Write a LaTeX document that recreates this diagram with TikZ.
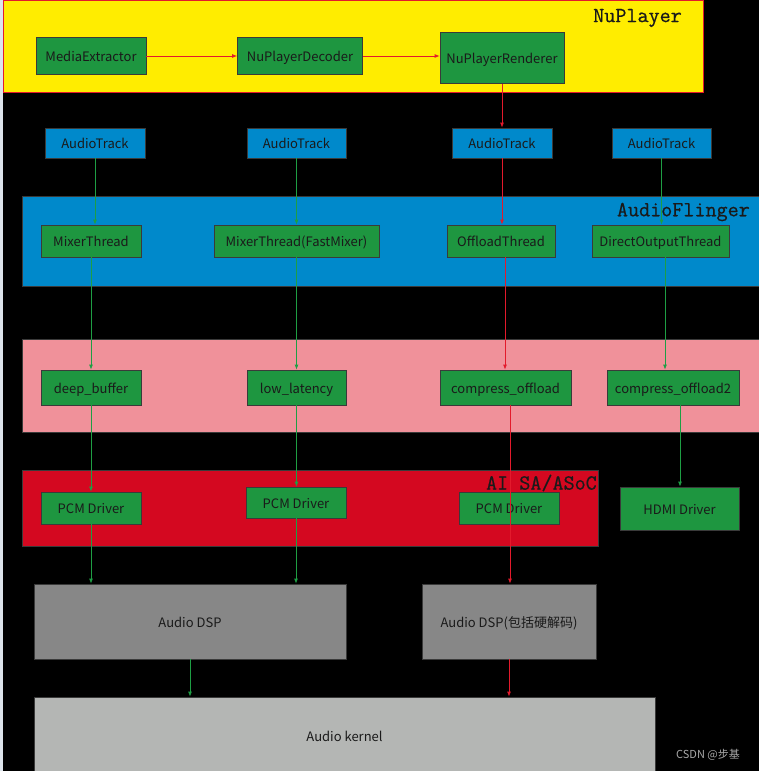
\documentclass[tikz,border=0pt]{standalone}
\usepackage{fontspec}
\newfontfamily\cjk{Noto Sans CJK SC}
\newfontfamily\titlefont{Latin Modern Mono}[FakeBold=0.7]
\definecolor{npyellow}{HTML}{FFED00}
\definecolor{afblue}{HTML}{0089CB}
\definecolor{halpink}{HTML}{F0919A}
\definecolor{alsared}{HTML}{D40820}
\definecolor{compgreen}{HTML}{1E9640}
\definecolor{dspgray}{HTML}{878787}
\definecolor{kernelgray}{HTML}{B4B6B4}
\definecolor{boxborder}{HTML}{3A3A3A}
\definecolor{linegreen}{HTML}{1E9E44}
\definecolor{linered}{HTML}{E31A2C}
\definecolor{textdark}{HTML}{1A1A1A}
\definecolor{stripgray}{HTML}{DDE4EC}
\definecolor{markgray}{HTML}{A8A8A8}
\usetikzlibrary{arrows.meta,positioning,calc}

\begin{document}
\begin{tikzpicture}[x=1pt, y=-1pt,
  layer/.style={draw=boxborder, inner sep=0pt, line width=0.8pt},
  comp/.style={draw=boxborder, fill=compgreen, inner sep=0pt,
               line width=0.8pt, text=textdark,
               text height=1.25em, text depth=0.1em,
               font=\cjk\fontsize{13}{14}\selectfont},
  track/.style={comp, fill=afblue},
  dspbox/.style={comp, fill=dspgray},
  title/.style={anchor=east, text=textdark, inner sep=0pt,
                font=\titlefont\fontsize{21.5}{22}\selectfont},
  gflow/.style={draw=linegreen, line width=0.8pt,
                -{Latex[length=5pt,width=4pt]}},
  rflow/.style={draw=linered, line width=0.8pt,
                -{Latex[length=5pt,width=4pt]}}
]
\useasboundingbox (0,0) rectangle (759,771);
\clip (0,0) rectangle (759,771);
\fill[black] (0,0) rectangle (759,771);
\fill[stripgray] (0,0) rectangle (3,771);

%% NuPlayer
\node[layer, fill=npyellow, draw=linered, minimum width=700pt,
      minimum height=92pt] (nuplayer) at (353,46) {};
\node[title] (nptitle) at (682,18) {NuPlayer};
\node[comp, minimum width=110pt, minimum height=37pt] (extractor) at (91,56) {MediaExtractor};
\node[comp, minimum width=125pt, minimum height=37pt] (decoder) at (300,56) {NuPlayerDecoder};
\node[comp, minimum width=124pt, minimum height=51pt] (renderer) at (502,58) {NuPlayerRenderer};

%% AudioTrack
\node[track, minimum width=100pt, minimum height=30pt] (track1) at (95,143) {AudioTrack};
\node[track, minimum width=99pt, minimum height=30pt] (track2) at (296.5,143) {AudioTrack};
\node[track, minimum width=100pt, minimum height=30pt] (track3) at (502,143) {AudioTrack};
\node[track, minimum width=99pt, minimum height=30pt] (track4) at (661.5,143) {AudioTrack};

%% AudioFlinger
\node[layer, fill=afblue, minimum width=748pt, minimum height=90pt] (flinger) at (396,241) {};
\node[title] (aftitle) at (750,212) {AudioFlinger};
\node[comp, minimum width=100pt, minimum height=32pt] (mixer) at (91,241) {MixerThread};
\node[comp, minimum width=165pt, minimum height=32pt] (fastmixer) at (296.5,241) {MixerThread(FastMixer)};
\node[comp, minimum width=108pt, minimum height=32pt] (offload) at (501,241) {OffloadThread};
\node[comp, minimum width=137pt, minimum height=32pt] (direct) at (660.5,241) {DirectOutputThread};

%% output profiles
\node[layer, fill=halpink, minimum width=748pt, minimum height=93pt] (profiles) at (396,385.5) {};
\node[comp, minimum width=100pt, minimum height=35pt] (deepbuf) at (91,387.5) {deep\_buffer};
\node[comp, minimum width=99pt, minimum height=35pt] (lowlat) at (296.5,387.5) {low\_latency};
\node[comp, minimum width=131pt, minimum height=35pt] (compress) at (505.5,387.5) {compress\_offload};
\node[comp, minimum width=132pt, minimum height=35pt] (compress2) at (673,387.5) {compress\_offload2};

%% ALSA/ASoC
\node[layer, fill=alsared, minimum width=576pt, minimum height=76pt] (alsa) at (310,508) {};
\node[title] (alsatitle) at (597,483) {AI SA/ASoC};
\node[comp, minimum width=100pt, minimum height=32pt] (pcm1) at (91,508) {PCM Driver};
\node[comp, minimum width=100pt, minimum height=31pt] (pcm2) at (296,502.5) {PCM Driver};
\node[comp, minimum width=100pt, minimum height=32pt] (pcm3) at (509,508) {PCM Driver};
\node[comp, minimum width=119pt, minimum height=43pt] (hdmi) at (679.5,508.5) {HDMI Driver};

%% DSP and kernel
\node[dspbox, minimum width=312pt, minimum height=75pt] (dsp) at (190,621.5) {Audio DSP};
\node[dspbox, minimum width=174pt, minimum height=75pt] (dsphw) at (509,621.5) {Audio DSP(包括硬解码)};
\node[dspbox, fill=kernelgray, minimum width=621pt, minimum height=78pt] (kernel) at (344.5,736) {Audio kernel};
\node[font=\cjk\fontsize{11}{12}\selectfont, text=markgray] (mark) at (708,755) {CSDN @步基};

%% connectors
\draw[rflow] (extractor.east) -- (extractor.east -| decoder.west);
\draw[rflow] (decoder.east) -- (decoder.east -| renderer.west);
\draw[rflow] (renderer.south) -- (track3.north);

\draw[gflow] (track1.south) -- (track1.south |- mixer.north);
\draw[gflow] (track2.south) -- (track2.south |- fastmixer.north);
\draw[rflow] (track3.south) -- (track3.south |- offload.north);
\draw[gflow] (track4.south) -- (track4.south |- direct.north);

\draw[gflow] (mixer.south) -- (deepbuf.north);
\draw[gflow] (fastmixer.south) -- (fastmixer.south |- lowlat.north);
\draw[rflow] ([xshift=4pt]offload.south) -- ([xshift=4pt]offload.south |- compress.north);
\draw[gflow] ([xshift=4.5pt]direct.south) -- ([xshift=4.5pt]direct.south |- compress2.north);

\draw[gflow] (deepbuf.south) -- (pcm1.north);
\draw[gflow] (lowlat.south) -- (lowlat.south |- pcm2.north);
\draw[rflow] ([xshift=4.5pt]compress.south) -- ([xshift=4.5pt]compress.south |- dsphw.north);
\draw[gflow] ([xshift=7pt]compress2.south) -- ([xshift=7pt]compress2.south |- hdmi.north);

\draw[gflow] (pcm1.south) -- (pcm1.south |- dsp.north);
\draw[gflow] (pcm2.south) -- (pcm2.south |- dsp.north);
\draw[gflow] (dsp.south) -- (dsp.south |- kernel.north);
\draw[rflow] (dsphw.south) -- (dsphw.south |- kernel.north);

\end{tikzpicture}
\end{document}
